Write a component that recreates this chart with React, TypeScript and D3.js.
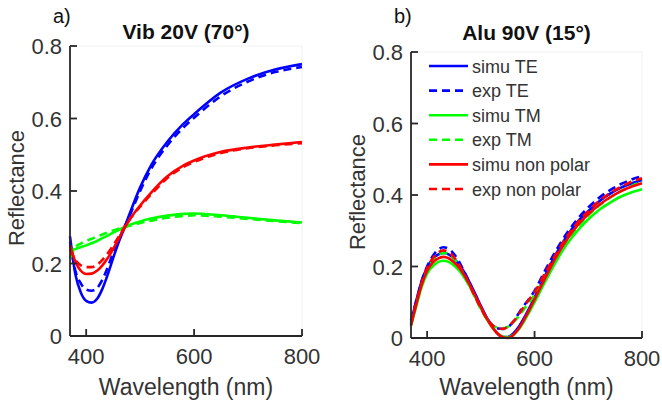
import React from "react";
import * as d3 from "d3";

// ---------- data ----------
const vibWl = [370, 380, 390, 400, 410, 420, 430, 440, 450, 460, 470, 480, 500, 520, 550, 580, 600, 650, 700, 750, 800];
const vibSimuTE = [0.275, 0.17, 0.12, 0.097, 0.092, 0.102, 0.13, 0.17, 0.215, 0.258, 0.295, 0.335, 0.41, 0.47, 0.535, 0.585, 0.612, 0.672, 0.71, 0.735, 0.75];
const vibExpTE = [0.26, 0.18, 0.145, 0.128, 0.125, 0.132, 0.155, 0.19, 0.23, 0.265, 0.298, 0.33, 0.4, 0.46, 0.525, 0.575, 0.602, 0.662, 0.702, 0.728, 0.742];
const vibSimuTM = [0.235, 0.24, 0.245, 0.25, 0.256, 0.262, 0.27, 0.277, 0.285, 0.292, 0.3, 0.306, 0.316, 0.324, 0.332, 0.337, 0.338, 0.333, 0.326, 0.319, 0.313];
const vibExpTM = [0.215, 0.245, 0.255, 0.262, 0.268, 0.274, 0.28, 0.286, 0.291, 0.296, 0.3, 0.304, 0.312, 0.318, 0.326, 0.331, 0.333, 0.329, 0.323, 0.317, 0.311];
const vibSimuNP = [0.25, 0.205, 0.18, 0.171, 0.172, 0.18, 0.195, 0.215, 0.24, 0.267, 0.295, 0.32, 0.36, 0.395, 0.44, 0.47, 0.484, 0.508, 0.52, 0.528, 0.535];
const vibExpNP = [0.24, 0.21, 0.195, 0.19, 0.19, 0.196, 0.21, 0.228, 0.25, 0.273, 0.298, 0.32, 0.357, 0.39, 0.435, 0.466, 0.48, 0.505, 0.518, 0.526, 0.532];

const aluWl = [370, 380, 390, 400, 410, 420, 430, 440, 450, 460, 470, 480, 490, 500, 510, 520, 530, 540, 550, 560, 570, 580, 590, 600, 620, 640, 660, 680, 700, 720, 740, 760, 780, 800];
const aluSimuTE = [0.045, 0.105, 0.16, 0.197, 0.22, 0.233, 0.238, 0.234, 0.222, 0.205, 0.182, 0.153, 0.122, 0.09, 0.06, 0.034, 0.014, 0.003, 0.003, 0.012, 0.03, 0.055, 0.083, 0.113, 0.175, 0.235, 0.285, 0.325, 0.355, 0.382, 0.403, 0.42, 0.432, 0.442];
const aluExpTE = [0.05, 0.105, 0.16, 0.2, 0.228, 0.246, 0.254, 0.25, 0.235, 0.212, 0.182, 0.15, 0.117, 0.085, 0.058, 0.038, 0.027, 0.025, 0.03, 0.045, 0.068, 0.09, 0.11, 0.132, 0.19, 0.245, 0.293, 0.333, 0.365, 0.392, 0.413, 0.43, 0.443, 0.453];
const aluSimuTM = [0.035, 0.09, 0.143, 0.18, 0.2, 0.212, 0.216, 0.213, 0.203, 0.188, 0.167, 0.142, 0.113, 0.084, 0.056, 0.032, 0.014, 0.004, 0.002, 0.008, 0.023, 0.045, 0.072, 0.1, 0.158, 0.214, 0.262, 0.3, 0.332, 0.358, 0.378, 0.395, 0.407, 0.416];
const aluExpTM = [0.035, 0.095, 0.15, 0.19, 0.215, 0.23, 0.238, 0.235, 0.222, 0.2, 0.173, 0.143, 0.111, 0.081, 0.055, 0.037, 0.029, 0.027, 0.031, 0.043, 0.06, 0.08, 0.1, 0.12, 0.17, 0.222, 0.27, 0.31, 0.343, 0.37, 0.392, 0.41, 0.425, 0.438];
const aluSimuNP = [0.035, 0.095, 0.15, 0.188, 0.21, 0.222, 0.227, 0.223, 0.212, 0.196, 0.174, 0.147, 0.117, 0.087, 0.058, 0.033, 0.014, 0.003, 0.0, 0.008, 0.025, 0.05, 0.078, 0.108, 0.168, 0.226, 0.275, 0.315, 0.346, 0.372, 0.393, 0.41, 0.423, 0.433];
const aluExpNP = [0.04, 0.1, 0.155, 0.195, 0.222, 0.238, 0.245, 0.241, 0.226, 0.204, 0.176, 0.145, 0.113, 0.083, 0.057, 0.038, 0.028, 0.026, 0.031, 0.045, 0.065, 0.087, 0.108, 0.128, 0.183, 0.235, 0.283, 0.323, 0.355, 0.383, 0.405, 0.422, 0.437, 0.447];

const seriesNames = ["simu TE", "exp TE", "simu TM", "exp TM", "simu non polar", "exp non polar"];
const seriesColors = ["#0000ff", "#0000ff", "#00ff00", "#00ff00", "#ff0000", "#ff0000"];
const seriesDashed = [false, true, false, true, false, true];
const xTicks = [400, 600, 800];
const yTicks = [0, 0.2, 0.4, 0.6, 0.8];

const FONT = "'Liberation Sans', Arial, Helvetica, sans-serif";
const AX = "#262626";
const TXT = "#333333";

type PanelProps = {
  x0: number; x1: number; yTop: number; yBot: number;
  wl: number[]; series: number[][];
  title: string; tag: string; tagX: number; titleY: number;
  legend?: boolean;
};

function Panel(p: PanelProps) {
  const x = d3.scaleLinear().domain([370, 800]).range([p.x0, p.x1]);
  const y = d3.scaleLinear().domain([0, 0.8]).range([p.yBot, p.yTop]);
  const line = d3.line<[number, number]>().x(d => x(d[0])).y(d => y(d[1])).curve(d3.curveMonotoneX);
  const cx = (p.x0 + p.x1) / 2;
  const cy = (p.yTop + p.yBot) / 2;
  return (
    <g>
      {/* faint box */}
      <line x1={p.x0} x2={p.x1} y1={p.yTop} y2={p.yTop} stroke="#f1f1f1" strokeWidth={1} />
      <line x1={p.x1} x2={p.x1} y1={p.yTop} y2={p.yBot} stroke="#f1f1f1" strokeWidth={1} />
      {p.series.map((s, i) => (
        <path key={i} d={line(p.wl.map((w, j) => [w, s[j]] as [number, number])) || ""}
          fill="none" stroke={seriesColors[i]} strokeWidth={2.6}
          strokeDasharray={seriesDashed[i] ? "8,5" : undefined} />
      ))}
      {/* axes */}
      <line x1={p.x0} x2={p.x1} y1={p.yBot} y2={p.yBot} stroke={AX} strokeWidth={1.8} />
      <line x1={p.x0} x2={p.x0} y1={p.yTop} y2={p.yBot} stroke={AX} strokeWidth={1.8} />
      {xTicks.map(t => (
        <g key={t}>
          <line x1={x(t)} x2={x(t)} y1={p.yBot} y2={p.yBot - 7} stroke={AX} strokeWidth={1.8} />
          <text x={x(t)} y={p.yBot + 28} textAnchor="middle" fontSize={22} fill={TXT} fontFamily={FONT}>{t}</text>
        </g>
      ))}
      {yTicks.map(t => (
        <g key={t}>
          <line x1={p.x0} x2={p.x0 + 7} y1={y(t)} y2={y(t)} stroke={AX} strokeWidth={1.8} />
          <text x={p.x0 - 8} y={y(t) + 8} textAnchor="end" fontSize={22} fill={TXT} fontFamily={FONT}>{t === 0 ? "0" : String(t)}</text>
        </g>
      ))}
      <text x={cx} y={395} textAnchor="middle" fontSize={23} fill={TXT} fontFamily={FONT}>Wavelength (nm)</text>
      <text transform={`translate(${p.x0 - 46},${cy - 3}) rotate(-90)`} textAnchor="middle" fontSize={22} fill={TXT} fontFamily={FONT}>Reflectance</text>
      <text x={cx} y={p.titleY} textAnchor="middle" fontSize={21} fontWeight="bold" fill="#111" fontFamily={FONT}>{p.title}</text>
      <text x={p.tagX} y={23} fontSize={20} fill="#111" fontFamily={FONT}>{p.tag}</text>
      {p.legend && seriesNames.map((n, i) => {
        const ly = 66 + i * 24.6;
        return (
          <g key={n}>
            <line x1={429} x2={468} y1={ly} y2={ly} stroke={seriesColors[i]} strokeWidth={2.6}
              strokeDasharray={seriesDashed[i] ? "8,5" : undefined} />
            <text x={472} y={ly + 6.5} fontSize={18} fill={TXT} fontFamily={FONT}>{n}</text>
          </g>
        );
      })}
    </g>
  );
}

export default function App() {
  return (
    <svg width={662} height={404} style={{ position: "absolute", left: 0, top: 0, background: "#fff" }}>
      <rect width={662} height={404} fill="#fff" />
      <Panel x0={70} x1={302} yTop={46} yBot={336} wl={vibWl}
        series={[vibSimuTE, vibExpTE, vibSimuTM, vibExpTM, vibSimuNP, vibExpNP]}
        title="Vib 20V (70°)" tag="a)" tagX={53} titleY={39} />
      <Panel x0={411} x1={642} yTop={52} yBot={338} wl={aluWl}
        series={[aluSimuTE, aluExpTE, aluSimuTM, aluExpTM, aluSimuNP, aluExpNP]}
        title="Alu 90V (15°)" tag="b)" tagX={394} titleY={40} legend />
    </svg>
  );
}
